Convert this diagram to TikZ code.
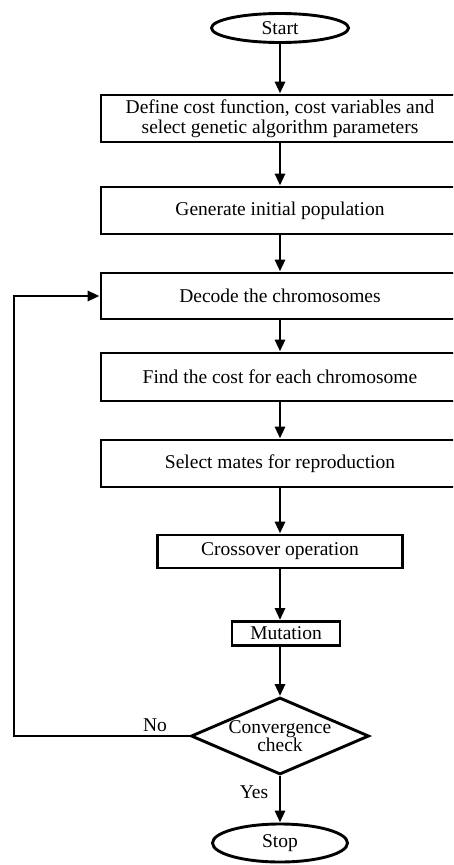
\documentclass[tikz,border=0pt]{standalone}
\usepackage{fontspec}
\setmainfont{Liberation Serif}
\usetikzlibrary{arrows.meta,shapes.geometric}
\begin{document}
\begin{tikzpicture}[x=1pt,y=1pt,
  every node/.style={font=\fontsize{19.5}{20}\selectfont, align=center},
  flowline/.style={line width=2.9pt},
  arrowline/.style={flowline, -{Triangle[length=12pt,width=10pt]}},
  procbox/.style={draw, line width=2.9pt, rectangle, inner sep=0pt},
  terminal/.style={draw, line width=2.9pt, ellipse, inner sep=0pt},
  decision/.style={draw, line width=2.9pt, diamond, inner sep=-4pt, shape aspect=2.31}
]
\useasboundingbox (0,0) rectangle (453,-865);
\clip (0,0) rectangle (453,-865);
\fill[white] (0,0) rectangle (453,-865);

\node[terminal, minimum width=137, minimum height=29] (start) at (280,-28) {Start};
\node[procbox, minimum width=358, minimum height=47] (def) at (280,-118.5)
  {Define cost function, cost variables and\\select genetic algorithm parameters};
\node[procbox, minimum width=358, minimum height=47] (gen) at (280,-210.5) {Generate initial population};
\node[procbox, minimum width=358, minimum height=46] (dec) at (280,-296) {Decode the chromosomes};
\node[procbox, minimum width=358, minimum height=48] (cost) at (280,-377) {Find the cost for each chromosome};
\node[procbox, minimum width=358, minimum height=47] (sel) at (280,-463.5) {Select mates for reproduction};
\node[procbox, minimum width=245, minimum height=33] (cross) at (280,-551.5) {Crossover operation};
\node[procbox, minimum width=108, minimum height=24] (mut) at (286,-633.5) {Mutation};
\node[decision, minimum width=178, minimum height=77] (conv) at (280,-736) {Convergence\\[-2pt]check};
\node[terminal, minimum width=135, minimum height=38] (stop) at (280,-843) {Stop};

\coordinate (loopL) at (14,-736);
\node (no) at (155,-725) {No};
\node (yes) at (254,-792) {Yes};

\draw[arrowline] (start) -- (def);
\draw[arrowline] (def) -- (gen);
\draw[arrowline] (gen) -- (dec);
\draw[arrowline] (dec) -- (cost);
\draw[arrowline] (cost) -- (sel);
\draw[arrowline] (sel) -- (cross);
\draw[arrowline] (cross.south) -- (mut.north -| cross.south);
\draw[arrowline] (mut.south -| conv.north) -- (conv.north);
\draw[arrowline] (conv.south) -- (stop.north);
\draw[arrowline] (conv.west) -- (loopL) |- (dec.west);
\end{tikzpicture}
\end{document}
